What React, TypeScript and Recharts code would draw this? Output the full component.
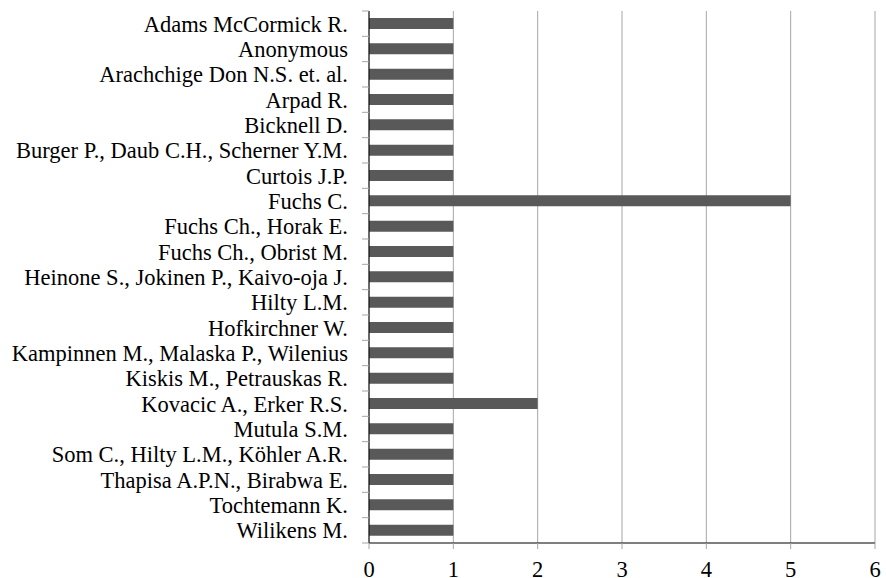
import React from 'react';
import { BarChart, Bar, XAxis, YAxis, CartesianGrid } from 'recharts';

const authors = [
  'Adams McCormick R.',
  'Anonymous',
  'Arachchige Don N.S. et. al.',
  'Arpad R.',
  'Bicknell D.',
  'Burger P., Daub C.H., Scherner Y.M.',
  'Curtois J.P.',
  'Fuchs C.',
  'Fuchs Ch., Horak E.',
  'Fuchs Ch., Obrist M.',
  'Heinone S., Jokinen P., Kaivo-oja J.',
  'Hilty L.M.',
  'Hofkirchner W.',
  'Kampinnen M., Malaska P., Wilenius',
  'Kiskis M., Petrauskas R.',
  'Kovacic A., Erker R.S.',
  'Mutula S.M.',
  'Som C., Hilty L.M., Köhler A.R.',
  'Thapisa A.P.N., Birabwa E.',
  'Tochtemann K.',
  'Wilikens M.',
];

const counts = [1, 1, 1, 1, 1, 1, 1, 5, 1, 1, 1, 1, 1, 1, 1, 2, 1, 1, 1, 1, 1];

const xTicks = [0, 1, 2, 3, 4, 5, 6];

const data = authors.map((name, i) => ({ name, value: counts[i] }));

const W = 886;
const H = 578;
const M = { top: 11, right: 11, bottom: 0, left: 0 };
const Y_W = 369;
const X_H = 35;
const plotH = H - M.top - M.bottom - X_H;
const band = plotH / authors.length;

const FONT = 'Liberation Serif, Times New Roman, serif';
const FS = 22.5;

const YTick = (props: any) => {
  const { x, y, payload, index } = props;
  const last = index === authors.length - 1;
  return (
    <g>
      <line x1={x - 7} x2={x} y1={y - band / 2} y2={y - band / 2} stroke="#a6a6a6" />
      {last && <line x1={x - 7} x2={x} y1={y + band / 2} y2={y + band / 2} stroke="#a6a6a6" />}
      <text x={x - 21} y={y} dy="0.35em" textAnchor="end" style={{ fontFamily: FONT, fontSize: FS }} fill="#000">
        {payload.value}
      </text>
    </g>
  );
};

const XTick = (props: any) => {
  const { x, y, payload } = props;
  return (
    <text x={x} y={y} dy="0.71em" textAnchor="middle" style={{ fontFamily: FONT, fontSize: FS }} fill="#000">
      {payload.value}
    </text>
  );
};

export default function App() {
  return (
    <div style={{ position: 'absolute', left: 0, top: 0, background: '#fff' }}>
      <BarChart width={W} height={H} data={data} layout="vertical" margin={M} barSize={11}>
        <CartesianGrid horizontal={false} stroke="#a6a6a6" />
        <XAxis
          type="number"
          domain={[0, 6]}
          ticks={xTicks}
          interval={0}
          height={X_H}
          stroke="#000"
          tickLine={{ stroke: '#a6a6a6' }}
          tickSize={6}
          tickMargin={12}
          tick={<XTick />}
        />
        <YAxis
          type="category"
          dataKey="name"
          width={Y_W}
          interval={0}
          stroke="#000"
          tickLine={false}
          tickSize={0}
          tickMargin={0}
          tick={<YTick />}
        />
        <Bar dataKey="value" fill="#595959" isAnimationActive={false} />
      </BarChart>
    </div>
  );
}
